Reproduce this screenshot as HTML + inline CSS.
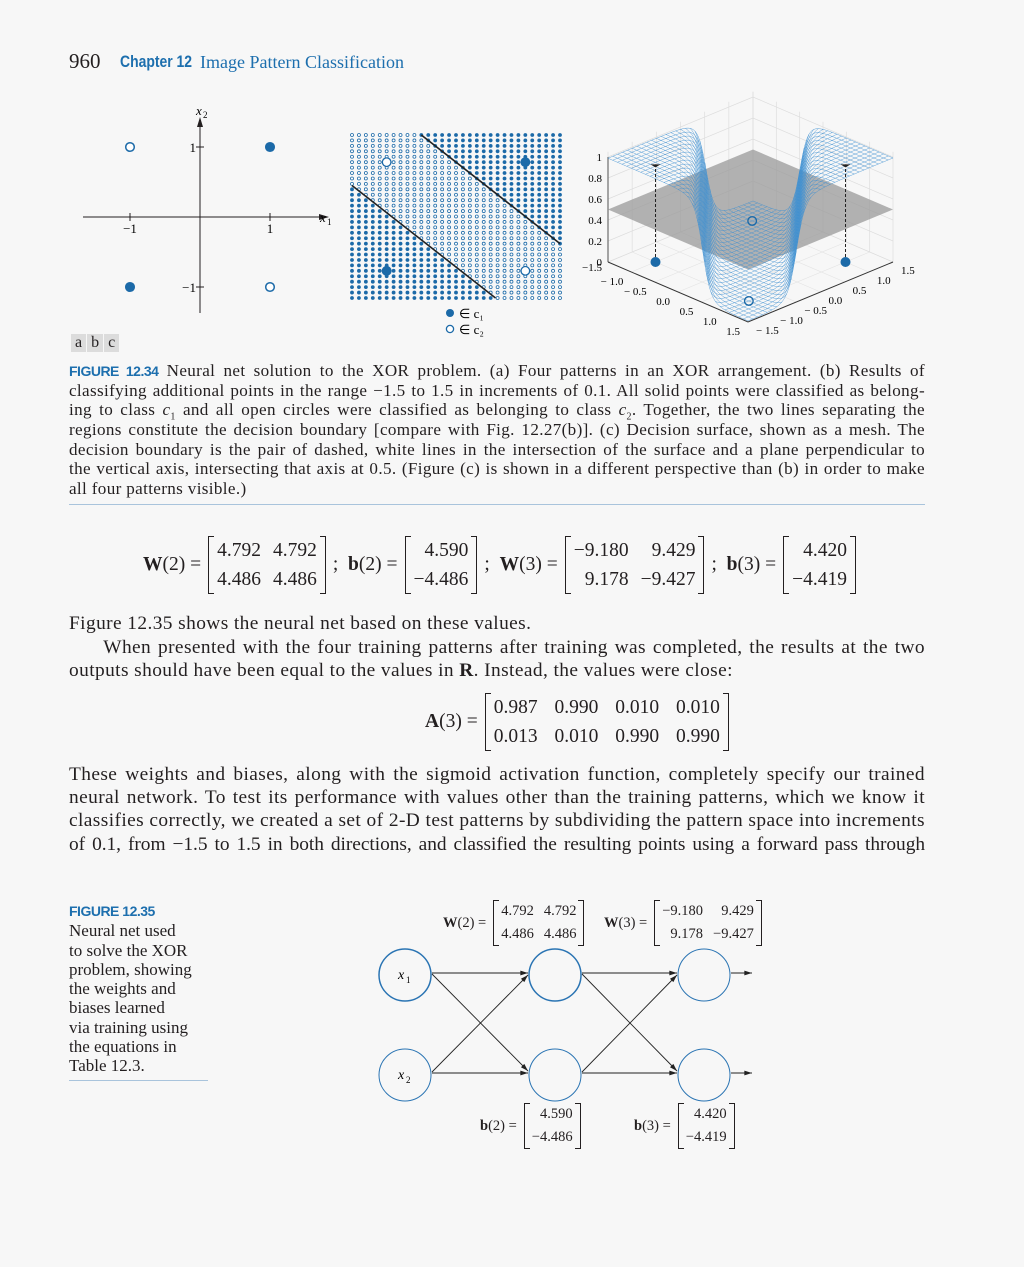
<!DOCTYPE html>
<html><head><meta charset="utf-8">
<style>
body{margin:0;background:#f7f7f7;}
#page{position:relative;width:1024px;height:1267px;background:#f7f7f7;overflow:hidden;font-family:"Liberation Serif",serif;color:#231f20;}
.abs{position:absolute;white-space:nowrap;}
.cap{position:absolute;left:69px;width:856px;font-size:17.1px;line-height:19.6px;text-align:justify;text-align-last:justify;white-space:nowrap;letter-spacing:0.35px;}
.cap.last{text-align-last:left;}
.body{position:absolute;left:69px;width:856px;font-size:19.4px;line-height:23px;text-align:justify;text-align-last:justify;white-space:nowrap;letter-spacing:0.4px;}
.body.last{text-align-last:left;}
.blue{color:#1d6fae;}
.sans{font-family:"Liberation Sans",sans-serif;}
.mat{position:relative;display:inline-block;border-left:1.3px solid #231f20;border-right:1.3px solid #231f20;padding:0 2px;vertical-align:middle;}
.mat::before,.mat::after{content:"";position:absolute;top:0;bottom:0;width:5px;border-top:1.2px solid #231f20;border-bottom:1.2px solid #231f20;}
.mat::before{left:0}.mat::after{right:0}
.mat table{border-collapse:collapse;}
.mat td{padding:0 6px;text-align:right;line-height:29px;}
.eq{display:flex;align-items:center;gap:7px;}
.small .mat td{line-height:23px;padding:0 5px;}
</style></head><body>
<div id="page">

<div class="abs" style="left:69px;top:49px;font-size:21px;">960</div>
<div class="abs sans blue" style="left:120px;top:52px;font-size:17px;font-weight:bold;transform:scaleX(0.82);transform-origin:left;">Chapter 12</div>
<div class="abs blue" style="left:200px;top:52px;font-size:18px;">Image Pattern Classification</div>

<svg id="fig" class="abs" style="left:0;top:0" width="1024" height="340"></svg>

<div class="abs" style="left:71px;top:334px;display:flex;font-size:16px;">
<span style="background:#dcdcdc;padding:0 4px;margin-right:1px">a</span><span style="background:#dcdcdc;padding:0 4px;margin-right:1px">b</span><span style="background:#dcdcdc;padding:0 4px">c</span></div>

<div>
<div class="cap" style="top:361px"><b class="sans blue" style="font-size:14px;letter-spacing:-0.5px">FIGURE 12.34</b> Neural net solution to the XOR problem. (a) Four patterns in an XOR arrangement. (b) Results of</div>
<div class="cap" style="top:381px">classifying additional points in the range −1.5 to 1.5 in increments of 0.1. All solid points were classified as belong-</div>
<div class="cap" style="top:400px">ing to class <i>c</i><sub style="font-size:10px">1</sub> and all open circles were classified as belonging to class <i>c</i><sub style="font-size:10px">2</sub>. Together, the two lines separating the</div>
<div class="cap" style="top:420px">regions constitute the decision boundary [compare with Fig. 12.27(b)]. (c) Decision surface, shown as a mesh. The</div>
<div class="cap" style="top:440px">decision boundary is the pair of dashed, white lines in the intersection of the surface and a plane perpendicular to</div>
<div class="cap" style="top:459px">the vertical axis, intersecting that axis at 0.5. (Figure (c) is shown in a different perspective than (b) in order to make</div>
<div class="cap last" style="top:479px">all four patterns visible.)</div>
</div>
<div class="abs" style="left:69px;top:504px;width:856px;height:1px;background:#a9c4dc"></div>

<div class="abs eq" style="left:143px;top:536px;font-size:19.5px;">
<span><b>W</b>(2) =</span><span class="mat"><table><tr><td>4.792</td><td>4.792</td></tr><tr><td>4.486</td><td>4.486</td></tr></table></span><span>; &nbsp;<b>b</b>(2) =</span><span class="mat"><table><tr><td>4.590</td></tr><tr><td>−4.486</td></tr></table></span><span>; &nbsp;<b>W</b>(3) =</span><span class="mat"><table><tr><td>−9.180</td><td>&nbsp;&nbsp;9.429</td></tr><tr><td>9.178</td><td>−9.427</td></tr></table></span><span>; &nbsp;<b>b</b>(3) =</span><span class="mat"><table><tr><td>4.420</td></tr><tr><td>−4.419</td></tr></table></span>
</div>

<div class="body last" style="top:612px">Figure 12.35 shows the neural net based on these values.</div>
<div class="body" style="top:636px">&nbsp;&nbsp;&nbsp;&nbsp;&nbsp;When presented with the four training patterns after training was completed, the results at the two</div>
<div class="body last" style="top:659px">outputs should have been equal to the values in <b>R</b>. Instead, the values were close:</div>

<div class="abs eq" style="left:425px;top:693px;font-size:19.5px;">
<span><b>A</b>(3) =</span><span class="mat"><table><tr><td>0.987</td><td>&nbsp;0.990</td><td>&nbsp;0.010</td><td>&nbsp;0.010</td></tr><tr><td>0.013</td><td>&nbsp;0.010</td><td>&nbsp;0.990</td><td>&nbsp;0.990</td></tr></table></span></div>

<div class="body" style="top:763px">These weights and biases, along with the sigmoid activation function, completely specify our trained</div>
<div class="body" style="top:786px">neural network. To test its performance with values other than the training patterns, which we know it</div>
<div class="body" style="top:809px">classifies correctly, we created a set of 2-D test patterns by subdividing the pattern space into increments</div>
<div class="body" style="top:833px;letter-spacing:-0.05px">of 0.1, from −1.5 to 1.5 in both directions, and classified the resulting points using a forward pass through</div>

<div class="abs" style="left:69px;top:901px;font-size:17px;line-height:19.3px;">
<b class="sans blue" style="font-size:14px;letter-spacing:-0.5px">FIGURE 12.35</b><br>Neural net used<br>to solve the XOR<br>problem, showing<br>the weights and<br>biases learned<br>via training using<br>the equations in<br>Table 12.3.</div>
<div class="abs" style="left:69px;top:1080px;width:139px;height:1px;background:#a9c4dc"></div>

<svg id="net" class="abs" style="left:0;top:880px" width="1024" height="280"></svg>

<div class="abs eq small" style="left:443px;top:900px;font-size:14.5px;"><span><b>W</b>(2) =</span><span class="mat"><table><tr><td>4.792</td><td>4.792</td></tr><tr><td>4.486</td><td>4.486</td></tr></table></span></div>
<div class="abs eq small" style="left:604px;top:900px;font-size:14.5px;"><span><b>W</b>(3) =</span><span class="mat"><table><tr><td>−9.180</td><td>&nbsp;&nbsp;9.429</td></tr><tr><td>9.178</td><td>−9.427</td></tr></table></span></div>
<div class="abs eq small" style="left:480px;top:1103px;font-size:14.5px;"><span><b>b</b>(2) =</span><span class="mat"><table><tr><td>4.590</td></tr><tr><td>−4.486</td></tr></table></span></div>
<div class="abs eq small" style="left:634px;top:1103px;font-size:14.5px;"><span><b>b</b>(3) =</span><span class="mat"><table><tr><td>4.420</td></tr><tr><td>−4.419</td></tr></table></span></div>

</div>
<script>
// ---- data ----
const xorX = [-1, 1, -1, 1];
const xorY = [1, 1, -1, -1];
const xorClass = [2, 1, 1, 2];
const W2 = [[4.792, 4.792], [4.486, 4.486]];
const b2 = [4.590, -4.486];
const W3row = [-9.180, 9.429];
const b3 = 4.420;
const zTicks = [0, 0.2, 0.4, 0.6, 0.8, 1];
const xTickLabels = [-1.5, -1.0, -0.5, 0.0, 0.5, 1.0, 1.5];
const boundaryUpper = 1.0;
const boundaryLower = -0.93;

const NS = "http://www.w3.org/2000/svg";
const BLUE = "#1c6aa8";
function mk(parent, tag, attrs, text) {
  const e = document.createElementNS(NS, tag);
  for (const k in attrs) e.setAttribute(k, attrs[k]);
  if (text !== undefined) e.textContent = text;
  parent.appendChild(e);
  return e;
}
const sig = v => 1 / (1 + Math.exp(-v));
function net(x, y) {
  const a1 = sig(W2[0][0] * x + W2[0][1] * y + b2[0]);
  const a2 = sig(W2[1][0] * x + W2[1][1] * y + b2[1]);
  return sig(W3row[0] * a1 + W3row[1] * a2 + b3);
}
const fig = document.getElementById("fig");

// ---- panel a ----
const ax = v => 200 + v * 70, ay = v => 217 - v * 70;
let e;
e = mk(fig, "line", {x1: 83, y1: 217, x2: 322, y2: 217, stroke: "#231f20", "stroke-width": 1});
 
mk(fig, "polygon", {points: "329,217 319,214 319,220", fill: "#231f20"});
e = mk(fig, "line", {x1: 200, y1: 313, x2: 200, y2: 124, stroke: "#231f20", "stroke-width": 1});
 
mk(fig, "polygon", {points: "200,117 197,127 203,127", fill: "#231f20"});
[-1, 1].forEach(v => {
  mk(fig, "line", {x1: ax(v), y1: 213, x2: ax(v), y2: 221, stroke: "#231f20"});
  mk(fig, "line", {x1: 196, y1: ay(v), x2: 204, y2: ay(v), stroke: "#231f20"});
  mk(fig, "text", {x: ax(v), y: 233, "font-size": 13, "text-anchor": "middle", "font-family": "Liberation Serif"}, v < 0 ? "−1" : "1");
  mk(fig, "text", {x: 196, y: ay(v) + 5, "font-size": 13, "text-anchor": "end", "font-family": "Liberation Serif"}, v < 0 ? "−1" : "1");
});
mk(fig, "text", {x: 320, y: 222, "font-size": 13, "font-style": "italic", "font-family": "Liberation Serif"}, "x");
mk(fig, "text", {x: 327, y: 225, "font-size": 9, "font-family": "Liberation Serif"}, "1");
mk(fig, "text", {x: 196, y: 115, "font-size": 13, "font-style": "italic", "font-family": "Liberation Serif"}, "x");
mk(fig, "text", {x: 203, y: 118, "font-size": 9, "font-family": "Liberation Serif"}, "2");
xorX.forEach((x, i) => {
  const c = mk(fig, "circle", {cx: ax(x), cy: ay(xorY[i]), r: 4.3, fill: xorClass[i] === 1 ? BLUE : "#fff", stroke: BLUE, "stroke-width": 1.5});
   
});

// ---- panel b ----
const bx = v => 352 + (v + 1.5) / 3 * 208, by = v => 135 + (1.5 - v) / 3 * 163;
for (let i = 0; i <= 30; i++) for (let j = 0; j <= 30; j++) {
  const x = -1.5 + i * 0.1, y = -1.5 + j * 0.1;
  const s = x + y;
  const open = s > boundaryLower && s < boundaryUpper;
  if (open) mk(fig, "circle", {cx: bx(x), cy: by(y), r: 1.5, fill: "#fff", stroke: BLUE, "stroke-width": 0.8});
  else mk(fig, "circle", {cx: bx(x), cy: by(y), r: 1.9, fill: BLUE});
}
[boundaryUpper, boundaryLower].forEach(s => {
  let x1 = Math.max(-1.5, s - 1.5), x2 = Math.min(1.5, s + 1.5);
  const l = mk(fig, "line", {x1: bx(x1), y1: by(s - x1), x2: bx(x2), y2: by(s - x2), stroke: "#222", "stroke-width": 1.6});
   
});
xorX.forEach((x, i) => {
  mk(fig, "circle", {cx: bx(x), cy: by(xorY[i]), r: 4.3, fill: xorClass[i] === 1 ? BLUE : "#fff", stroke: BLUE, "stroke-width": 1.3});
});
mk(fig, "circle", {cx: 450, cy: 313, r: 4, fill: BLUE});
mk(fig, "circle", {cx: 450, cy: 329, r: 3.6, fill: "#fff", stroke: BLUE, "stroke-width": 1.3});
mk(fig, "text", {x: 459, y: 318, "font-size": 13, "font-family": "Liberation Serif"}, "∈ c₁");
mk(fig, "text", {x: 459, y: 334, "font-size": 13, "font-family": "Liberation Serif"}, "∈ c₂");

// ---- panel c ----
const L = [608, 262], FX = [140, 60], FY = [145, -60], ZS = 105;
function P(x, y, z) {
  const u = (x + 1.5) / 3, v = (y + 1.5) / 3;
  return [L[0] + u * FX[0] + v * FY[0], L[1] + u * FX[1] + v * FY[1] - z * ZS];
}
const pstr = pts => pts.map(p => p.join(",")).join(" ");
const g = mk(fig, "g", {});
 
for (let k = 0; k < xTickLabels.length; k++) {
  const t = xTickLabels[k];
  let a = P(-1.5, t, 0), b = P(-1.5, t, 1.05);
  mk(g, "line", {x1: a[0], y1: a[1], x2: b[0], y2: b[1], stroke: "#ddd", "stroke-width": 0.7});
  a = P(t, 1.5, 0); b = P(t, 1.5, 1.05);
  mk(g, "line", {x1: a[0], y1: a[1], x2: b[0], y2: b[1], stroke: "#ddd", "stroke-width": 0.7});
  a = P(-1.5, t, 0); b = P(1.5, t, 0);
  mk(g, "line", {x1: a[0], y1: a[1], x2: b[0], y2: b[1], stroke: "#e3e3e3", "stroke-width": 0.6});
  a = P(t, -1.5, 0); b = P(t, 1.5, 0);
  mk(g, "line", {x1: a[0], y1: a[1], x2: b[0], y2: b[1], stroke: "#e3e3e3", "stroke-width": 0.6});
}
zTicks.forEach(z => {
  const a = P(-1.5, -1.5, z), b = P(-1.5, 1.5, z), c = P(1.5, 1.5, z);
  mk(g, "polyline", {points: pstr([a, b, c]), fill: "none", stroke: "#ddd", "stroke-width": 0.7});
  mk(g, "text", {x: a[0] - 6, y: a[1] + 4, "font-size": 11, "text-anchor": "end", "font-family": "Liberation Serif"}, String(z));
});
mk(g, "line", {x1: L[0], y1: L[1], x2: L[0], y2: L[1] - ZS, stroke: "#777", "stroke-width": 1.3});
let A0 = P(-1.5, -1.5, 0), A1 = P(1.5, -1.5, 0), A2 = P(1.5, 1.5, 0);
mk(g, "polyline", {points: pstr([A0, A1, A2]), fill: "none", stroke: "#333", "stroke-width": 1});
xTickLabels.forEach(t => {
  const p = P(t, -1.5, 0);
  if (t > -1.5) mk(g, "text", {x: p[0] - 8, y: p[1] + 13, "font-size": 11, "text-anchor": "end", "font-family": "Liberation Serif"}, (t < 0 ? "− " : "") + Math.abs(t).toFixed(1));
  const q = P(1.5, t, 0);
  mk(g, "text", {x: q[0] + 8, y: q[1] + 12, "font-size": 11, "font-family": "Liberation Serif"}, (t < 0 ? "− " : "") + Math.abs(t).toFixed(1));
});
mk(g, "text", {x: 602, y: 271, "font-size": 11, "text-anchor": "end", "font-family": "Liberation Serif"}, "−1.5");
mk(g, "polygon", {points: pstr([P(-1.5, -1.5, 0.5), P(1.5, -1.5, 0.5), P(1.5, 1.5, 0.5), P(-1.5, 1.5, 0.5)]), fill: "#9a9a9a", "fill-opacity": 0.75});
const N = 30;
for (let i = 0; i <= N; i++) {
  const t = -1.5 + 3 * i / N;
  const r1 = [], r2 = [];
  for (let j = 0; j <= N * 3; j++) {
    const s = -1.5 + 3 * j / (N * 3);
    r1.push(P(t, s, net(t, s)));
    r2.push(P(s, t, net(s, t)));
  }
  mk(g, "polyline", {points: pstr(r1), fill: "none", stroke: "#3d8fd1", "stroke-width": 0.5, "stroke-opacity": 0.85});
  mk(g, "polyline", {points: pstr(r2), fill: "none", stroke: "#3d8fd1", "stroke-width": 0.5, "stroke-opacity": 0.85});
}
xorX.forEach((x, i) => {
  const p = P(x, xorY[i], 0);
  if (xorClass[i] === 1) {
    const q = P(x, xorY[i], 0.93);
    mk(g, "line", {x1: p[0], y1: p[1], x2: q[0], y2: q[1], stroke: "#222", "stroke-width": 1, "stroke-dasharray": "3,2"});
    mk(g, "polygon", {points: `${q[0]-5},${q[1]} ${q[0]+5},${q[1]} ${q[0]},${q[1]+3}`, fill: "#222"});
  }
  const pp = xorClass[i] === 1 ? p : P(x, xorY[i], 0.01);
  mk(g, "circle", {cx: pp[0], cy: pp[1], r: 4.3, fill: xorClass[i] === 1 ? BLUE : "none", stroke: BLUE, "stroke-width": 1.4});
});

// ---- network diagram ----
const nt = document.getElementById("net");
const off = 880;
const nx = [405, 555, 704], ny = [975 - off, 1075 - off], R = 26;
for (let l = 0; l < 3; l++) for (let k = 0; k < 2; k++) {
  const c = mk(nt, "circle", {cx: nx[l], cy: ny[k], r: R, fill: "none", stroke: "#2a74b3", "stroke-width": (k === 0 && l < 2) ? 1.5 : 1});
   
}
mk(nt, "text", {x: 398, y: ny[0] + 4, "font-size": 14, "font-style": "italic", "font-family": "Liberation Serif"}, "x");
mk(nt, "text", {x: 406, y: ny[0] + 8, "font-size": 9, "font-family": "Liberation Serif"}, "1");
mk(nt, "text", {x: 398, y: ny[1] + 4, "font-size": 14, "font-style": "italic", "font-family": "Liberation Serif"}, "x");
mk(nt, "text", {x: 406, y: ny[1] + 8, "font-size": 9, "font-family": "Liberation Serif"}, "2");
function arrow(x1, y1, x2, y2) {
  mk(nt, "line", {x1, y1, x2, y2, stroke: "#222", "stroke-width": 0.9});
  const a = Math.atan2(y2 - y1, x2 - x1), s = 8;
  const p1 = [x2 - s * Math.cos(a - 0.3), y2 - s * Math.sin(a - 0.3)], p2 = [x2 - s * Math.cos(a + 0.3), y2 - s * Math.sin(a + 0.3)];
  mk(nt, "polygon", {points: `${x2},${y2} ${p1} ${p2}`, fill: "#222"});
}
for (let l = 0; l < 2; l++) {
  const xa = nx[l] + R + 1, xb = nx[l + 1] - R - 1;
  arrow(xa, ny[0] - 2, xb, ny[0] - 2);
  arrow(xa, ny[1] - 2, xb, ny[1] - 2);
  arrow(xa, ny[0] - 1, xb, ny[1] - 4);
  arrow(xa, ny[1] - 3, xb, ny[0] + 0);
}
arrow(nx[2] + R + 1, ny[0] - 2, 752, ny[0] - 2);
arrow(nx[2] + R + 1, ny[1] - 2, 752, ny[1] - 2);
</script>
</body></html>
